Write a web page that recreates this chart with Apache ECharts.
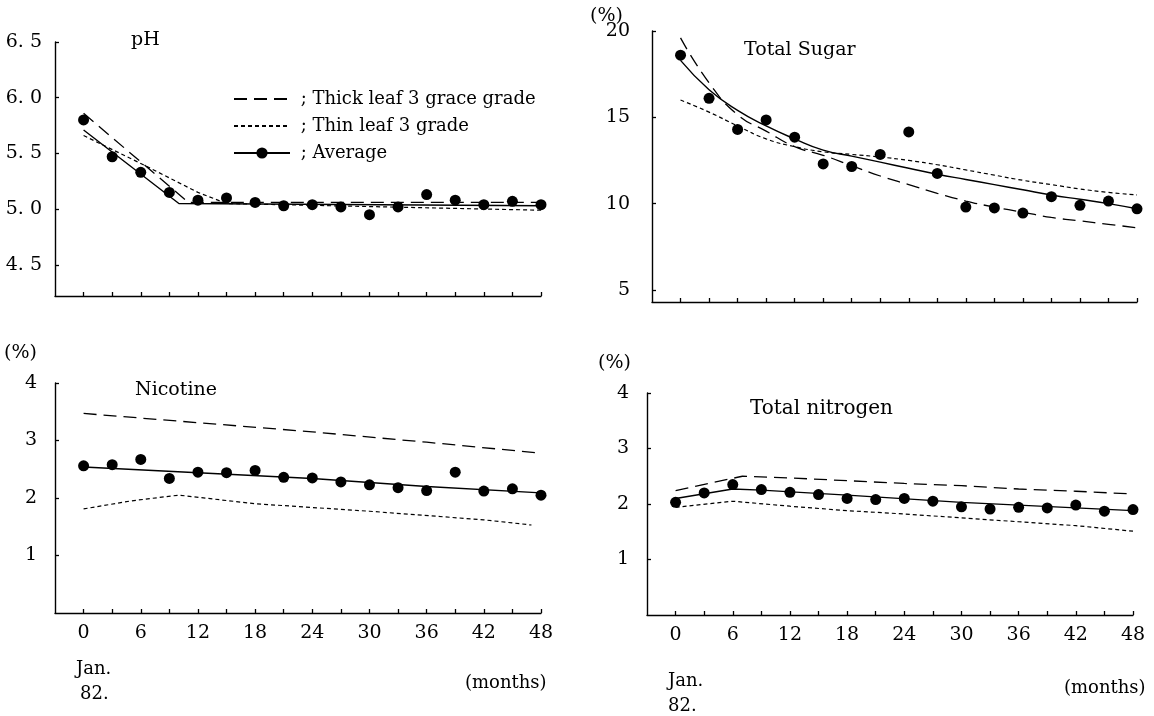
<!DOCTYPE html>
<html>
<head>
<meta charset="UTF-8">
<title>Leaf storage changes</title>
<script src="https://cdn.jsdelivr.net/npm/echarts@6/dist/echarts.min.js"></script>
<style>
  body { margin: 0; background: #fff; }
  #chart { width: 1154px; height: 716px; }
</style>
</head>
<body>
<div id="chart"></div>
<script>
// months after Jan. 82
const months = [0, 3, 6, 9, 12, 15, 18, 21, 24, 27, 30, 33, 36, 39, 42, 45, 48];
const monthTicks = [0, 3, 6, 9, 12, 15, 18, 21, 24, 27, 30, 33, 36, 39, 42, 45, 48];
const monthLabels = [0, 6, 12, 18, 24, 30, 36, 42, 48];

const names = ['Thick leaf 3 grace grade', 'Thin leaf 3 grade', 'Average'];

// pH
const phTicks = [4.5, 5.0, 5.5, 6.0, 6.5];
const phDots = [5.80, 5.47, 5.33, 5.15, 5.08, 5.10, 5.06, 5.03, 5.04, 5.02, 4.95, 5.02, 5.13, 5.08, 5.04, 5.07, 5.04];
const phThick = [[0, 5.86], [11, 5.06], [48, 5.06]];
const phThin = [[0, 5.66], [6, 5.41], [12, 5.15], [15, 5.05], [48, 4.99]];
const phAvg = [[0, 5.71], [10, 5.05], [48, 5.03]];

// total sugar (%)
const sugarTicks = [5, 10, 15, 20];
const sugarDots = [18.6, 16.1, 14.3, 14.85, 13.85, 12.3, 12.15, 12.85, 14.15, 11.75, 9.8, 9.75, 9.45, 10.4, 9.9, 10.15, 9.7];
const sugarThick = [19.6, 17.0, 15.15, 14.2, 13.3, 12.8, 12.2, 11.6, 11.1, 10.6, 10.15, 9.8, 9.5, 9.2, 9.0, 8.8, 8.6];
const sugarThin = [16.0, 15.3, 14.5, 13.75, 13.3, 13.0, 12.85, 12.7, 12.5, 12.25, 11.95, 11.65, 11.35, 11.1, 10.85, 10.65, 10.5];
const sugarAvg = [18.3, 16.6, 15.4, 14.5, 13.75, 13.1, 12.75, 12.4, 12.05, 11.7, 11.4, 11.1, 10.8, 10.5, 10.25, 10.0, 9.7];

// nicotine (%)
const pctTicks = [1, 2, 3, 4];
const nicDots = [2.56, 2.58, 2.67, 2.34, 2.45, 2.44, 2.48, 2.36, 2.35, 2.28, 2.23, 2.18, 2.13, 2.45, 2.12, 2.16, 2.05];
const nicThick = [[0, 3.47], [12, 3.31], [24, 3.15], [36, 2.97], [48, 2.78]];
const nicThin = [[0, 1.81], [5, 1.95], [10, 2.05], [18, 1.9], [30, 1.77], [42, 1.62], [47, 1.53]];
const nicAvg = [[0, 2.54], [12, 2.44], [24, 2.34], [36, 2.2], [48, 2.09]];

// total nitrogen (%)
const nitDots = [2.03, 2.20, 2.35, 2.26, 2.21, 2.17, 2.10, 2.08, 2.10, 2.05, 1.95, 1.91, 1.94, 1.93, 1.98, 1.87, 1.90];
const nitThick = [[0, 2.24], [7, 2.50], [12, 2.47], [18, 2.42], [24, 2.37], [30, 2.33], [36, 2.27], [42, 2.23], [48, 2.18]];
const nitThin = [[0, 1.94], [6, 2.05], [12, 1.96], [18, 1.88], [24, 1.82], [30, 1.75], [36, 1.68], [42, 1.61], [48, 1.51]];
const nitAvg = [[0, 2.10], [6, 2.27], [9, 2.25], [18, 2.16], [30, 2.03], [42, 1.93], [48, 1.88]];

const FONT = 'DejaVu Serif';
const ink = '#000';
const pair = arr => months.map((m, i) => [m, arr[i]]);

function xAxis(grid, labels) {
  return {
    type: 'value', gridIndex: grid, min: -3, max: 48,
    splitLine: { show: false },
    axisLine: { onZero: false, lineStyle: { color: ink, width: 1.4 } },
    axisTick: { inside: true, length: 4, customValues: monthTicks, lineStyle: { color: ink, width: 1.3 } },
    axisLabel: { show: labels, customValues: monthLabels, margin: 11, color: ink, fontFamily: FONT, fontSize: 19 }
  };
}
function yAxis(grid, min, max, ticks, margin, fmt) {
  return {
    type: 'value', gridIndex: grid, min: min, max: max,
    splitLine: { show: false },
    axisLine: { show: true, onZero: false, lineStyle: { color: ink, width: 1.4 } },
    axisTick: { inside: true, length: 4, customValues: ticks, lineStyle: { color: ink, width: 1.3 } },
    axisLabel: { customValues: ticks, margin: margin, color: ink, fontFamily: FONT, fontSize: 19, formatter: fmt }
  };
}
function lines(k, thick, thin, avg, dots, smooth) {
  return [
    { name: names[0], type: 'line', xAxisIndex: k, yAxisIndex: k, data: thick, symbol: 'none', smooth: smooth,
      itemStyle: { color: 'rgba(0,0,0,0)' }, lineStyle: { color: ink, width: 1.3, type: [13, 7] } },
    { name: names[1], type: 'line', xAxisIndex: k, yAxisIndex: k, data: thin, symbol: 'none', smooth: smooth,
      itemStyle: { color: 'rgba(0,0,0,0)' }, lineStyle: { color: ink, width: 1.2, type: [4, 3] } },
    { name: names[2], type: 'line', xAxisIndex: k, yAxisIndex: k, data: avg, symbol: 'circle', symbolSize: 9,
      showSymbol: false, smooth: smooth, itemStyle: { color: ink }, lineStyle: { color: ink, width: 1.4 } },
    { name: 'dots', type: 'scatter', xAxisIndex: k, yAxisIndex: k, data: dots, symbolSize: 11,
      itemStyle: { color: ink, opacity: 1 } }
  ];
}
function txt(text, left, top, size) {
  return { type: 'text', left: left, top: top,
    style: { text: text, fill: ink, font: (size || 19) + 'px "' + FONT + '"' } };
}

const chart = echarts.init(document.getElementById('chart'));
chart.setOption({
  backgroundColor: '#fff',
  animation: false,
  grid: [
    { left: 55, top: 42, width: 486, height: 254 },
    { left: 652, top: 31, width: 485, height: 271 },
    { left: 55, top: 383, width: 486, height: 230 },
    { left: 647, top: 393, width: 486, height: 222 }
  ],
  xAxis: [xAxis(0, false), xAxis(1, false), xAxis(2, true), xAxis(3, true)],
  yAxis: [
    yAxis(0, 4.22, 6.5, phTicks, 13, v => v.toFixed(1).replace('.', '. ')),
    yAxis(1, 4.3, 20, sugarTicks, 22),
    yAxis(2, 0, 4, pctTicks, 18),
    yAxis(3, 0, 4, pctTicks, 18)
  ],
  legend: {
    data: names, orient: 'vertical', left: 228, top: 85, itemWidth: 56, itemHeight: 14, itemGap: 9,
    selectedMode: false, formatter: n => ' ; ' + n,
    textStyle: { color: ink, fontFamily: FONT, fontSize: 18 }
  },
  graphic: [
    txt('pH', 131, 31),
    txt('Total Sugar', 744, 41),
    txt('Nicotine', 135, 381),
    txt('Total nitrogen', 750, 399, 20),
    txt('(%)', 590, 7),
    txt('(%)', 4, 344),
    txt('(%)', 598, 354),
    txt('Jan.', 76, 660, 18), txt('82.', 80, 685, 18),
    txt('(months)', 465, 674, 18),
    txt('Jan.', 668, 672, 18), txt('82.', 668, 697, 18),
    txt('(months)', 1064, 679, 18)
  ],
  series: [].concat(
    lines(0, phThick, phThin, phAvg, pair(phDots), false),
    lines(1, pair(sugarThick), pair(sugarThin), pair(sugarAvg), pair(sugarDots), true),
    lines(2, nicThick, nicThin, nicAvg, pair(nicDots), false),
    lines(3, nitThick, nitThin, nitAvg, pair(nitDots), false)
  )
});
</script>
</body>
</html>
